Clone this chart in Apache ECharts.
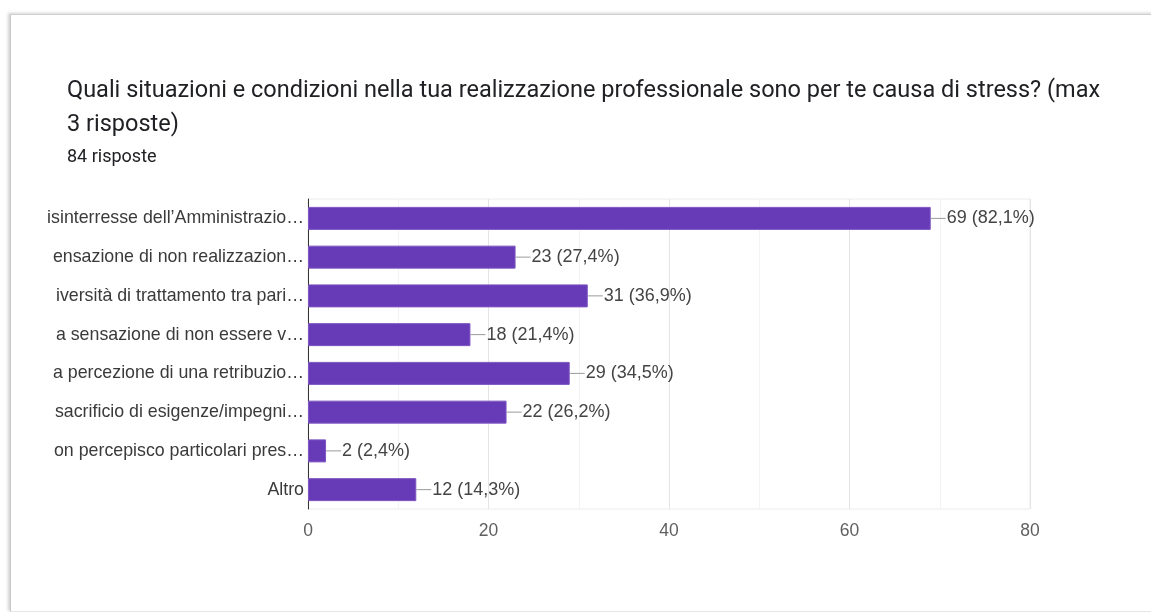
<!DOCTYPE html>
<html>
<head>
<meta charset="utf-8">
<script src="https://cdn.jsdelivr.net/npm/echarts@6/dist/echarts.min.js"></script>
<style>
  html, body { margin: 0; padding: 0; background: #ffffff; }
  #card {
    position: absolute; left: 10px; top: 14px; width: 1200px; height: 596px;
    background: #ffffff;
    border-top: 1px solid #d0d0d0; border-left: 1px solid #c8c8c8; border-bottom: 1px solid #e6e6e6;
    box-shadow: -2px -1px 3px rgba(0,0,0,0.18);
  }
  #chart { position: absolute; left: 0; top: 0; width: 1151px; height: 612px; }
</style>
</head>
<body>
<div id="card"></div>
<div id="chart"></div>
<script>
// Answer options (truncated as shown in the form summary), top to bottom
const categories = [
  'isinterresse dell\u2019Amministrazio\u2026',
  'ensazione di non realizzazion\u2026',
  'iversit\u00e0 di trattamento tra pari\u2026',
  'a sensazione di non essere v\u2026',
  'a percezione di una retribuzio\u2026',
  'sacrificio di esigenze/impegni\u2026',
  'on percepisco particolari pres\u2026',
  'Altro'
];
// Number of responses per option
const counts = [69, 23, 31, 18, 29, 22, 2, 12];
// Share of the 84 respondents, as printed next to each bar
const shares = ['82,1%', '27,4%', '36,9%', '21,4%', '34,5%', '26,2%', '2,4%', '14,3%'];
// Value axis ticks
const axisMin = 0, axisMax = 80, axisStep = 20;

const titleText = 'Quali situazioni e condizioni nella tua realizzazione professionale sono per te causa di stress? (max\n3 risposte)';
const subText = '84 risposte';

const chart = echarts.init(document.getElementById('chart'), null, { renderer: 'canvas' });
chart.setOption({
  backgroundColor: 'transparent',
  animation: false,
  title: {
    text: titleText,
    subtext: subText,
    left: 62,
    top: 69,
    itemGap: 4,
    textStyle: { fontFamily: 'Roboto', fontSize: 23.5, fontWeight: 'normal', color: '#202124', lineHeight: 34 },
    subtextStyle: { fontFamily: 'Roboto', fontSize: 18, color: '#202124', lineHeight: 22 }
  },
  grid: { left: 308, right: 121, top: 199, height: 310, containLabel: false,
          show: true, borderColor: '#ececec', borderWidth: 1 },
  xAxis: {
    type: 'value', min: axisMin, max: axisMax, interval: axisStep,
    axisLine: { show: false }, axisTick: { show: false },
    axisLabel: { color: '#5f5f5f', fontFamily: 'Liberation Sans', fontSize: 17.5, margin: 13 },
    splitLine: { lineStyle: { color: '#e4e4e4' } },
    minorTick: { show: false, splitNumber: 2 },
    minorSplitLine: { show: true, lineStyle: { color: '#f3f3f3' } }
  },
  yAxis: {
    type: 'category', data: categories, inverse: true,
    axisLine: { show: true, lineStyle: { color: '#333333', width: 1 } },
    axisTick: { show: false },
    axisLabel: { color: '#3a3a3a', fontFamily: 'Liberation Sans', fontSize: 17.8, margin: 4 }
  },
  series: [{
    type: 'bar',
    data: counts,
    barWidth: 23,
    itemStyle: { color: '#673ab7', borderColor: '#7e57c2', borderWidth: 1 },
    label: {
      show: true, position: 'right', distance: 0,
      formatter: p => '{ln|}{tx|' + counts[p.dataIndex] + ' (' + shares[p.dataIndex] + ')}',
      rich: {
        ln: { width: 15, height: 1, backgroundColor: '#9a9a9a' },
        tx: { color: '#444444', fontFamily: 'Liberation Sans', fontSize: 18, padding: [0, 0, 0, 1] }
      }
    }
  }]
});
</script>
</body>
</html>
